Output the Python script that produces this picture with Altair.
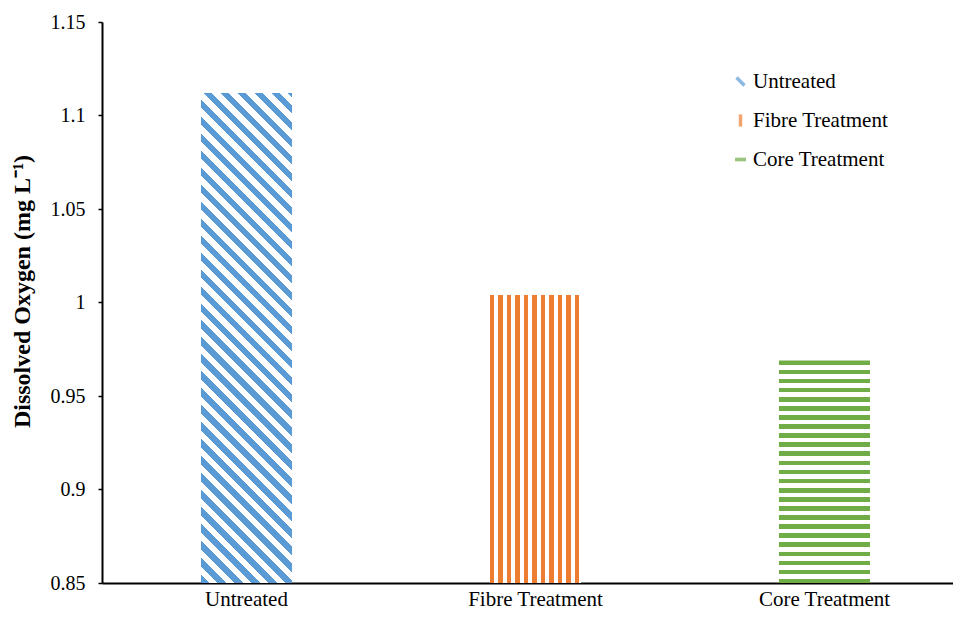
import math
import altair as alt
import pandas as pd

# ---- data ----
categories = ["Untreated", "Fibre Treatment", "Core Treatment"]
values = [1.112, 1.004, 0.969]
colors = ["#5B9BD5", "#ED7D31", "#70AD47"]
y_ticks = [0.85, 0.9, 0.95, 1.0, 1.05, 1.1, 1.15]

df = pd.DataFrame({"Treatment": categories, "DO": values})

# ---- layout ----
W = 851
RANGE_W = 867
H = 561
YMIN, YMAX = 0.85, 1.15
P_INNER = 0.685
step = RANGE_W / len(categories)
BW = step * (1 - P_INNER)
FONT = "Liberation Serif"


def bar_px(v):
    return (v - YMIN) / (YMAX - YMIN) * H


def periodic_stops(color, length, period, on):
    stops = []
    k = 0
    while k * period < length:
        a = k * period / length
        b = min((k * period + on) / length, 1.0)
        stops += [
            alt.GradientStop(offset=a, color="white"),
            alt.GradientStop(offset=a, color=color),
            alt.GradientStop(offset=b, color=color),
            alt.GradientStop(offset=b, color="white"),
        ]
        k += 1
    stops.append(alt.GradientStop(offset=1.0, color="white"))
    return stops


# Untreated: diagonal stripes "\"
w0, h0 = BW, bar_px(values[0])
a0 = (w0 + h0) / (w0 ** 2 + h0 ** 2)
L0 = (w0 + h0) / math.sqrt(2)
grad_diag = alt.LinearGradient(
    gradient="linear",
    stops=periodic_stops(colors[0], L0, 12.0, 6.0),
    x1=0, y1=1, x2=a0 * w0, y2=1 - a0 * h0,
)
# Fibre: vertical stripes
grad_vert = alt.LinearGradient(
    gradient="linear",
    stops=periodic_stops(colors[1], BW, 8.47, 4.4),
    x1=0, y1=0, x2=1, y2=0,
)
# Core: horizontal stripes
h2 = bar_px(values[2])
grad_horz = alt.LinearGradient(
    gradient="linear",
    stops=periodic_stops(colors[2], h2, 9.1, 4.7),
    x1=0, y1=0, x2=0, y2=1,
)
grads = [grad_diag, grad_vert, grad_horz]

x_enc = alt.X(
    "Treatment:N",
    sort=categories,
    scale=alt.Scale(domain=categories, range=[0, RANGE_W],
                    paddingInner=P_INNER, paddingOuter=P_INNER / 2),
    axis=alt.Axis(title=None, labelAngle=0, ticks=False, labelFontSize=21,
                  labelFont=FONT, labelColor="black", labelPadding=5,
                  domainColor="black", domainWidth=2),
)
y_enc = alt.Y(
    "DO:Q",
    scale=alt.Scale(domain=[YMIN, YMAX], zero=False, nice=False),
    axis=alt.Axis(
        values=y_ticks, format=".2~f", grid=False,
        title="Dissolved Oxygen (mg L\u207b\u00b9)",
        titleFont=FONT, titleFontSize=24, titleFontWeight="bold",
        titleColor="black", titleX=-80, titleY=269, titleAngle=-90,
        titleAlign="center", titleBaseline="middle",
        labelFont=FONT, labelFontSize=20, labelColor="black", labelPadding=13,
        domainColor="black", domainWidth=2, tickColor="black",
        tickSize=4, tickWidth=1.5,
    ),
)

base = alt.Chart(df)

bars = [
    base.transform_filter(alt.datum.Treatment == cat)
    .mark_bar(color=g, strokeWidth=0)
    .encode(x=x_enc, y=y_enc, y2=alt.datum(YMIN))
    for cat, g in zip(categories, grads)
]

shapes = [
    "M-0.85,-0.45L-0.45,-0.85L0.85,0.45L0.45,0.85Z",
    "M-0.28,-1H0.28V1H-0.28Z",
    "M-0.9,-0.3H0.9V0.3H-0.9Z",
]
leg = alt.Legend(
    orient="none", legendX=628, legendY=49, title=None,
    labelFont=FONT, labelFontSize=21, labelColor="black",
    symbolSize=150, symbolStrokeWidth=0, rowPadding=17,
    labelOffset=2, padding=0,
)
legend_pts = base.mark_point(filled=True, size=0, strokeWidth=0).encode(
    x=x_enc,
    y=y_enc,
    color=alt.Color("Treatment:N", scale=alt.Scale(domain=categories, range=colors), legend=leg),
    shape=alt.Shape("Treatment:N", scale=alt.Scale(domain=categories, range=shapes), legend=leg),
)

chart = (
    alt.layer(legend_pts, *bars)
    .properties(
        width=W, height=H,
        padding={"left": 94, "top": 14, "right": 0, "bottom": 28},
        autosize=alt.AutoSizeParams(type="none"),
    )
    .configure(font=FONT)
    .configure_view(stroke=None)
)

chart.save("out.html", embed_options={"renderer": "svg", "actions": False})
